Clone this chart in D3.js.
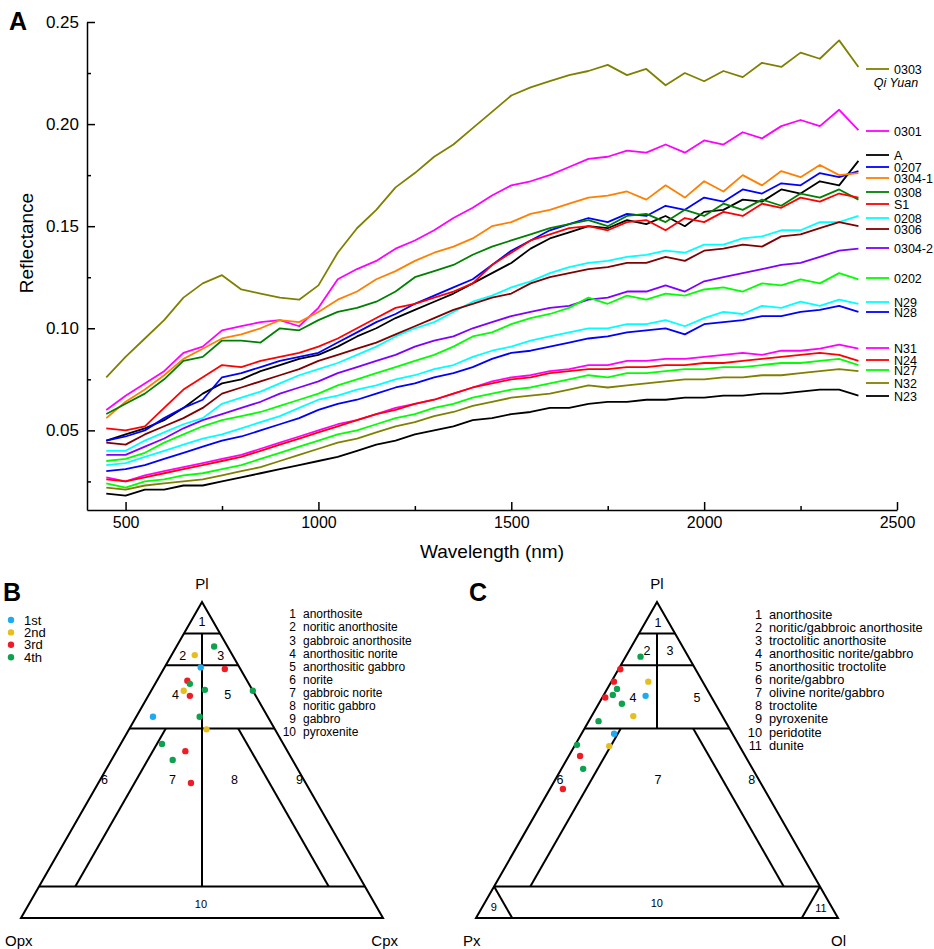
<!DOCTYPE html>
<html>
<head>
<meta charset="utf-8">
<title>Reflectance spectra and modal classification</title>
<style>
body {margin: 0; background: #fff;}
text {font-family: "Liberation Sans", Arial, sans-serif; fill: #000;}
.tern {fill: none; stroke: #000; stroke-width: 2;}
</style>
</head>
<body>
<div id="chart"></div>
<script src="https://cdn.jsdelivr.net/npm/d3@7"></script>
<script>
// ---- panel A data: reflectance spectra, sampled every 50 nm
var wavelengths = [450, 500, 550, 600, 650, 700, 750, 800, 850, 900, 950, 1000, 1050, 1100, 1150, 1200, 1250, 1300, 1350, 1400,
	1450, 1500, 1550, 1600, 1650, 1700, 1750, 1800, 1850, 1900, 1950, 2000, 2050, 2100, 2150, 2200, 2250, 2300, 2350, 2400];

var r0303 = [0.076, 0.086, 0.095, 0.104, 0.115, 0.122, 0.126, 0.119, 0.117, 0.115, 0.114, 0.121, 0.137, 0.149, 0.158, 0.169, 0.176, 0.184, 0.190, 0.198,
	0.206, 0.214, 0.218, 0.221, 0.224, 0.226, 0.229, 0.224, 0.227, 0.219, 0.225, 0.221, 0.226, 0.223, 0.230, 0.228, 0.235, 0.232, 0.241, 0.228];
var r0301 = [0.060, 0.067, 0.073, 0.079, 0.088, 0.091, 0.099, 0.101, 0.103, 0.104, 0.101, 0.110, 0.124, 0.129, 0.133, 0.139, 0.143, 0.148, 0.154, 0.159,
	0.165, 0.170, 0.172, 0.175, 0.179, 0.183, 0.184, 0.187, 0.186, 0.190, 0.186, 0.192, 0.190, 0.196, 0.193, 0.199, 0.202, 0.199, 0.207, 0.197];
var rA = [0.045, 0.048, 0.051, 0.055, 0.061, 0.068, 0.073, 0.075, 0.079, 0.082, 0.085, 0.087, 0.091, 0.096, 0.100, 0.105, 0.109, 0.113, 0.117, 0.122,
	0.127, 0.132, 0.139, 0.144, 0.147, 0.150, 0.149, 0.153, 0.151, 0.155, 0.150, 0.157, 0.158, 0.163, 0.162, 0.168, 0.166, 0.172, 0.170, 0.182];
var r0207 = [0.045, 0.047, 0.050, 0.056, 0.061, 0.065, 0.076, 0.078, 0.081, 0.084, 0.086, 0.088, 0.093, 0.098, 0.103, 0.107, 0.112, 0.116, 0.120, 0.124,
	0.131, 0.138, 0.143, 0.148, 0.151, 0.154, 0.152, 0.156, 0.155, 0.160, 0.158, 0.164, 0.162, 0.168, 0.166, 0.171, 0.170, 0.176, 0.174, 0.177];
var r0304_1 = [0.056, 0.064, 0.070, 0.077, 0.085, 0.090, 0.095, 0.097, 0.100, 0.104, 0.103, 0.108, 0.114, 0.118, 0.124, 0.128, 0.133, 0.137, 0.140, 0.144,
	0.150, 0.152, 0.156, 0.158, 0.161, 0.164, 0.165, 0.167, 0.163, 0.170, 0.164, 0.172, 0.167, 0.175, 0.170, 0.177, 0.174, 0.180, 0.175, 0.176];
var r0308 = [0.058, 0.063, 0.068, 0.075, 0.084, 0.086, 0.094, 0.094, 0.093, 0.100, 0.099, 0.104, 0.108, 0.110, 0.113, 0.118, 0.125, 0.128, 0.131, 0.136,
	0.140, 0.143, 0.146, 0.149, 0.151, 0.153, 0.150, 0.155, 0.156, 0.152, 0.158, 0.155, 0.161, 0.158, 0.163, 0.160, 0.166, 0.164, 0.168, 0.163];
var rS1 = [0.051, 0.050, 0.052, 0.061, 0.070, 0.076, 0.082, 0.081, 0.084, 0.086, 0.088, 0.091, 0.095, 0.100, 0.105, 0.110, 0.112, 0.115, 0.118, 0.122,
	0.131, 0.137, 0.143, 0.146, 0.149, 0.150, 0.148, 0.152, 0.153, 0.148, 0.154, 0.152, 0.157, 0.155, 0.161, 0.159, 0.164, 0.162, 0.166, 0.164];
var r0208 = [0.040, 0.040, 0.045, 0.049, 0.053, 0.056, 0.063, 0.066, 0.069, 0.073, 0.077, 0.080, 0.083, 0.087, 0.091, 0.096, 0.100, 0.103, 0.108, 0.113,
	0.116, 0.120, 0.123, 0.127, 0.130, 0.132, 0.133, 0.135, 0.136, 0.138, 0.137, 0.141, 0.141, 0.144, 0.145, 0.148, 0.148, 0.152, 0.152, 0.155];
var r0306 = [0.044, 0.043, 0.048, 0.052, 0.056, 0.061, 0.068, 0.071, 0.074, 0.077, 0.080, 0.084, 0.087, 0.090, 0.093, 0.097, 0.101, 0.105, 0.109, 0.112,
	0.115, 0.117, 0.122, 0.125, 0.127, 0.129, 0.130, 0.132, 0.132, 0.135, 0.133, 0.138, 0.139, 0.141, 0.140, 0.145, 0.146, 0.149, 0.152, 0.150];
var r0304_2 = [0.038, 0.038, 0.042, 0.046, 0.051, 0.055, 0.058, 0.061, 0.064, 0.068, 0.071, 0.074, 0.078, 0.081, 0.084, 0.087, 0.091, 0.094, 0.096, 0.100,
	0.103, 0.106, 0.108, 0.110, 0.111, 0.114, 0.115, 0.118, 0.118, 0.121, 0.118, 0.123, 0.125, 0.127, 0.129, 0.131, 0.132, 0.135, 0.138, 0.139];
var r0202 = [0.035, 0.036, 0.039, 0.044, 0.048, 0.052, 0.055, 0.057, 0.059, 0.062, 0.065, 0.068, 0.072, 0.075, 0.078, 0.081, 0.084, 0.087, 0.091, 0.096,
	0.098, 0.102, 0.105, 0.107, 0.110, 0.115, 0.112, 0.116, 0.114, 0.117, 0.116, 0.119, 0.120, 0.118, 0.122, 0.121, 0.124, 0.122, 0.127, 0.124];
var rN29 = [0.033, 0.034, 0.037, 0.040, 0.043, 0.046, 0.048, 0.051, 0.054, 0.057, 0.061, 0.065, 0.067, 0.070, 0.072, 0.075, 0.077, 0.080, 0.082, 0.086,
	0.089, 0.091, 0.094, 0.096, 0.098, 0.100, 0.100, 0.102, 0.102, 0.104, 0.101, 0.105, 0.108, 0.107, 0.111, 0.110, 0.113, 0.111, 0.114, 0.112];
var rN28 = [0.030, 0.031, 0.033, 0.036, 0.039, 0.042, 0.045, 0.047, 0.050, 0.053, 0.056, 0.060, 0.063, 0.065, 0.068, 0.071, 0.073, 0.076, 0.078, 0.081,
	0.085, 0.088, 0.089, 0.091, 0.093, 0.095, 0.096, 0.098, 0.099, 0.100, 0.097, 0.102, 0.103, 0.104, 0.106, 0.106, 0.108, 0.109, 0.111, 0.108];
var rN31 = [0.027, 0.025, 0.028, 0.030, 0.032, 0.034, 0.036, 0.038, 0.041, 0.044, 0.047, 0.050, 0.053, 0.055, 0.058, 0.061, 0.063, 0.065, 0.068, 0.071,
	0.074, 0.076, 0.077, 0.079, 0.080, 0.082, 0.082, 0.084, 0.084, 0.085, 0.085, 0.086, 0.087, 0.088, 0.087, 0.089, 0.089, 0.090, 0.092, 0.090];
var rN24 = [0.026, 0.025, 0.027, 0.029, 0.031, 0.033, 0.035, 0.037, 0.040, 0.043, 0.046, 0.049, 0.052, 0.055, 0.058, 0.060, 0.063, 0.065, 0.068, 0.071,
	0.073, 0.075, 0.076, 0.078, 0.079, 0.080, 0.080, 0.081, 0.081, 0.082, 0.082, 0.083, 0.083, 0.084, 0.085, 0.086, 0.087, 0.088, 0.087, 0.084];
var rN27 = [0.024, 0.022, 0.025, 0.026, 0.028, 0.029, 0.031, 0.033, 0.036, 0.039, 0.042, 0.045, 0.048, 0.050, 0.053, 0.056, 0.058, 0.061, 0.063, 0.066,
	0.068, 0.070, 0.071, 0.073, 0.075, 0.077, 0.076, 0.078, 0.078, 0.079, 0.080, 0.080, 0.081, 0.081, 0.082, 0.083, 0.083, 0.084, 0.085, 0.082];
var rN32 = [0.022, 0.021, 0.023, 0.024, 0.025, 0.026, 0.028, 0.030, 0.032, 0.035, 0.038, 0.041, 0.044, 0.046, 0.049, 0.052, 0.054, 0.057, 0.059, 0.062,
	0.064, 0.066, 0.067, 0.068, 0.070, 0.072, 0.071, 0.072, 0.073, 0.074, 0.075, 0.075, 0.076, 0.076, 0.077, 0.077, 0.078, 0.079, 0.080, 0.079];
var rN23 = [0.019, 0.018, 0.021, 0.021, 0.023, 0.023, 0.025, 0.027, 0.029, 0.031, 0.033, 0.035, 0.037, 0.040, 0.043, 0.045, 0.048, 0.050, 0.052, 0.055,
	0.056, 0.058, 0.059, 0.061, 0.061, 0.063, 0.064, 0.064, 0.065, 0.065, 0.066, 0.066, 0.067, 0.067, 0.068, 0.068, 0.069, 0.070, 0.070, 0.067];

var seriesNames = ['0303', '0301', 'A', '0207', '0304-1', '0308', 'S1', '0208', '0306', '0304-2', '0202', 'N29', 'N28', 'N31', 'N24', 'N27', 'N32', 'N23'];
var seriesValues = [r0303, r0301, rA, r0207, r0304_1, r0308, rS1, r0208, r0306, r0304_2, r0202, rN29, rN28, rN31, rN24, rN27, rN32, rN23];
var seriesColors = ['#808000', '#ff00ff', '#000000', '#0000ff', '#ff8000', '#008000', '#ff0000', '#00ffff', '#800000', '#8000ff', '#00ff00',
	'#00ffff', '#0000ff', '#ff00ff', '#ff0000', '#00ff00', '#808000', '#000000'];

var xTicks = [500, 1000, 1500, 2000, 2500];
var xMinor = [750, 1250, 1750, 2250];
var yTicks = [0.05, 0.10, 0.15, 0.20, 0.25];
var yMinor = [0.025, 0.075, 0.125, 0.175, 0.225];

// ---- panel B data: Pl / Opx / Cpx modal fractions
var bPl  = [0.859, 0.832, 0.793, 0.788, 0.751, 0.741, 0.719, 0.722, 0.703, 0.719, 0.637, 0.637, 0.597, 0.551, 0.528, 0.500, 0.427];
var bOpx = [0.037, 0.104, 0.107, 0.043, 0.165, 0.163, 0.191, 0.131, 0.182, 0.000, 0.317, 0.188, 0.189, 0.335, 0.282, 0.331, 0.317];
var bCpx = [0.104, 0.064, 0.100, 0.169, 0.084, 0.096, 0.090, 0.147, 0.115, 0.281, 0.046, 0.175, 0.214, 0.114, 0.190, 0.169, 0.256];
var bGroup = [3, 1, 0, 2, 2, 3, 1, 3, 2, 3, 0, 3, 1, 3, 2, 3, 2];

// ---- panel C data: Pl / Px / Ol modal fractions
var cPl = [0.827, 0.787, 0.748, 0.748, 0.725, 0.706, 0.698, 0.703, 0.678, 0.639, 0.623, 0.583, 0.544, 0.548, 0.513, 0.472, 0.408];
var cPx = [0.132, 0.208, 0.150, 0.245, 0.248, 0.269, 0.294, 0.180, 0.258, 0.246, 0.350, 0.327, 0.360, 0.447, 0.456, 0.468, 0.556];
var cOl = [0.041, 0.005, 0.102, 0.007, 0.027, 0.025, 0.008, 0.117, 0.064, 0.115, 0.027, 0.090, 0.096, 0.005, 0.031, 0.060, 0.036];
var cGroup = [3, 2, 1, 2, 3, 3, 2, 0, 3, 1, 3, 0, 1, 3, 2, 3, 2];

var groupNames = ['1st', '2nd', '3rd', '4th'];
var groupColors = ['#1eaaf1', '#e6bf1e', '#ee1c25', '#0ea24e'];

var bRockNames = ['anorthosite', 'noritic anorthosite', 'gabbroic anorthosite', 'anorthositic norite', 'anorthositic gabbro',
	'norite', 'gabbroic norite', 'noritic gabbro', 'gabbro', 'pyroxenite'];
var cRockNames = ['anorthosite', 'noritic/gabbroic anorthosite', 'troctolitic anorthosite', 'anorthositic norite/gabbro',
	'anorthositic troctolite', 'norite/gabbro', 'olivine norite/gabbro', 'troctolite', 'pyroxenite', 'peridotite', 'dunite'];

// field boundaries as [top, left, right] composition pairs
var bBounds = [
	[[0.9, 0.1, 0], [0.9, 0, 0.1]], [[0.8, 0.2, 0], [0.8, 0, 0.2]], [[0.6, 0.4, 0], [0.6, 0, 0.4]], [[0.1, 0.9, 0], [0.1, 0, 0.9]],
	[[0.9, 0.05, 0.05], [0.1, 0.45, 0.45]], [[0.6, 0.3, 0.1], [0.1, 0.8, 0.1]], [[0.6, 0.1, 0.3], [0.1, 0.1, 0.8]]];
var cBounds = [
	[[0.9, 0.1, 0], [0.9, 0, 0.1]], [[0.8, 0.2, 0], [0.8, 0, 0.2]], [[0.6, 0.4, 0], [0.6, 0, 0.4]], [[0.1, 0.9, 0], [0.1, 0, 0.9]],
	[[0.9, 0.05, 0.05], [0.6, 0.2, 0.2]], [[0.6, 0.3, 0.1], [0.1, 0.8, 0.1]], [[0.6, 0.1, 0.3], [0.1, 0.1, 0.8]],
	[[0.1, 0.9, 0], [0, 0.9, 0.1]], [[0.1, 0, 0.9], [0, 0.1, 0.9]]];
// field number positions [top, left, right]
var bFieldPos = [[0.937, 0.0315, 0.0315], [0.832, 0.137, 0.031], [0.832, 0.032, 0.136], [0.706, 0.22, 0.074], [0.706, 0.076, 0.218],
	[0.437, 0.551, 0.012], [0.437, 0.363, 0.2], [0.437, 0.192, 0.371], [0.437, 0.012, 0.551], [0.044, 0.481, 0.475]];
var cFieldPos = [[0.934, 0.03, 0.036], [0.845, 0.105, 0.05], [0.845, 0.0415, 0.1135], [0.699, 0.217, 0.084], [0.699, 0.04, 0.261],
	[0.437, 0.55, 0.0135], [0.437, 0.279, 0.284], [0.437, 0.02, 0.543], [0.035, 0.933, 0.032], [0.047, 0.477, 0.476], [0.032, 0.031, 0.937]];

var legendRowY = [69, 131, 155, 167, 178, 192, 204, 218, 229, 248, 278, 302, 312, 348, 360, 370, 383, 396];

var svg = d3.select('#chart').append('svg')
	.attr('width', 934)
	.attr('height', 949);

// ================= panel A =================
var x = d3.scaleLinear().domain([400, 2500]).range([87, 897]);
var y = d3.scaleLinear().domain([0.011, 0.25]).range([510, 22]);

var gx = svg.append('g').attr('transform', 'translate(0,510)')
	.call(d3.axisBottom(x).tickValues(xTicks).tickSize(-8).tickSizeOuter(0).tickPadding(7).tickFormat(d3.format('d')));
var gxm = svg.append('g').attr('transform', 'translate(0,510)')
	.call(d3.axisBottom(x).tickValues(xMinor).tickSize(-4).tickFormat(''));
gxm.select('.domain').remove();
var gy = svg.append('g').attr('transform', 'translate(87,0)')
	.call(d3.axisLeft(y).tickValues(yTicks).tickSize(-8).tickSizeOuter(0).tickPadding(8).tickFormat(d3.format('.2f')));
var gym = svg.append('g').attr('transform', 'translate(87,0)')
	.call(d3.axisLeft(y).tickValues(yMinor).tickSize(-4).tickFormat(''));
gym.select('.domain').remove();

svg.selectAll('.domain, .tick line').attr('stroke', '#000').attr('stroke-width', 1.5);
gx.selectAll('text').attr('font-size', 16).attr('font-family', '"Liberation Sans", Arial, sans-serif');
gy.selectAll('text').attr('font-size', 17).attr('font-family', '"Liberation Sans", Arial, sans-serif');

svg.append('text').attr('x', 492).attr('y', 558).attr('text-anchor', 'middle')
	.attr('font-size', 19).text('Wavelength (nm)');
svg.append('text').attr('transform', 'translate(33,243) rotate(-90)').attr('text-anchor', 'middle')
	.attr('font-size', 19).text('Reflectance');
svg.append('text').attr('x', 9).attr('y', 30).attr('font-size', 25).attr('font-weight', 'bold').text('A');

var line = d3.line()
	.x(function(d, i) { return x(wavelengths[i]); })
	.y(function(d) { return y(d); });

svg.append('g').selectAll('path')
	.data(seriesValues)
	.enter()
	.append('path')
	.attr('d', line)
	.attr('fill', 'none')
	.attr('stroke-width', 1.8)
	.attr('stroke-linejoin', 'round')
	.attr('stroke', function(d, i) { return seriesColors[i]; });

var legend = svg.append('g').selectAll('g')
	.data(seriesNames)
	.enter()
	.append('g')
	.attr('transform', function(d, i) { return 'translate(866,' + legendRowY[i] + ')'; });
legend.append('line')
	.attr('x1', 0).attr('x2', 23)
	.attr('stroke-width', 1.8)
	.attr('stroke', function(d, i) { return seriesColors[i]; });
legend.append('text')
	.attr('x', 28).attr('dy', '0.36em')
	.attr('font-size', 12.5)
	.text(function(d) { return d; });
svg.append('text').attr('x', 896).attr('y', 87).attr('text-anchor', 'middle')
	.attr('font-size', 12.5).attr('font-style', 'italic').text('Qi Yuan');

// ================= ternary panels =================
var tY = d3.scaleLinear().domain([0, 1]).range([918, 602]);

function drawTernary(x0, bounds, fieldPos, pTop, pLeft, pRight, pGroup, labels) {
	var tX = d3.scaleLinear().domain([0, 1]).range([x0, x0 + 362]);
	function proj(c) {
		var s = c[0] + c[1] + c[2];
		return [tX((c[2] + c[0] / 2) / s), tY(c[0] / s)];
	}
	var g = svg.append('g');
	g.append('path').attr('class', 'tern')
		.attr('d', 'M' + proj([1, 0, 0]) + 'L' + proj([0, 1, 0]) + 'L' + proj([0, 0, 1]) + 'Z');
	g.selectAll('line.bound')
		.data(bounds)
		.enter()
		.append('line')
		.attr('class', 'tern')
		.attr('x1', function(d) { return proj(d[0])[0]; })
		.attr('y1', function(d) { return proj(d[0])[1]; })
		.attr('x2', function(d) { return proj(d[1])[0]; })
		.attr('y2', function(d) { return proj(d[1])[1]; });
	g.selectAll('text.field')
		.data(fieldPos)
		.enter()
		.append('text')
		.attr('x', function(d) { return proj(d)[0]; })
		.attr('y', function(d) { return proj(d)[1]; })
		.attr('dy', '0.36em')
		.attr('text-anchor', 'middle')
		.attr('fill', '#000')
		.attr('font-size', function(d) { return d[0] < 0.1 ? 11 : 12.5; })
		.text(function(d, i) { return i + 1; });
	g.selectAll('circle')
		.data(pTop)
		.enter()
		.append('circle')
		.attr('cx', function(d, i) { return proj([d, pLeft[i], pRight[i]])[0]; })
		.attr('cy', function(d, i) { return proj([d, pLeft[i], pRight[i]])[1]; })
		.attr('r', 3.2)
		.attr('fill', function(d, i) { return groupColors[pGroup[i]]; });
	var apex = proj([1, 0, 0]), bl = proj([0, 1, 0]), br = proj([0, 0, 1]);
	g.append('text').attr('x', apex[0]).attr('y', apex[1] - 13).attr('text-anchor', 'middle').attr('font-size', 15).text(labels[0]);
	g.append('text').attr('x', bl[0] + labels[3]).attr('y', bl[1] + 28).attr('font-size', 15).text(labels[1]);
	g.append('text').attr('x', br[0] + labels[4]).attr('y', br[1] + 28).attr('text-anchor', 'end').attr('font-size', 15).text(labels[2]);
}

drawTernary(21, bBounds, bFieldPos, bPl, bOpx, bCpx, bGroup, ['Pl', 'Opx', 'Cpx', -16, 15]);
drawTernary(476, cBounds, cFieldPos, cPl, cPx, cOl, cGroup, ['Pl', 'Px', 'Ol', -13, 8]);

svg.append('text').attr('x', 3).attr('y', 601).attr('font-size', 25).attr('font-weight', 'bold').text('B');
svg.append('text').attr('x', 469).attr('y', 601).attr('font-size', 25).attr('font-weight', 'bold').text('C');

// group legend in B
var gl = svg.append('g').selectAll('g')
	.data(groupNames)
	.enter()
	.append('g')
	.attr('transform', function(d, i) { return 'translate(11,' + (620 + i * 12.4) + ')'; });
gl.append('circle').attr('r', 3.2).attr('fill', function(d, i) { return groupColors[i]; });
gl.append('text').attr('x', 13).attr('dy', '0.36em').attr('font-size', 13).text(function(d) { return d; });

// rock name lists
function drawList(xNum, names, size) {
	var rows = svg.append('g').selectAll('g')
		.data(names)
		.enter()
		.append('g')
		.attr('transform', function(d, i) { return 'translate(' + xNum + ',' + (614 + i * 13.1) + ')'; });
	rows.append('text').attr('text-anchor', 'end').attr('dy', '0.36em').attr('font-size', size)
		.text(function(d, i) { return i + 1; });
	rows.append('text').attr('x', 7).attr('dy', '0.36em').attr('font-size', size)
		.text(function(d) { return d; });
}
drawList(296, bRockNames, 12);
drawList(762, cRockNames, 12.8);
</script>
</body>
</html>
